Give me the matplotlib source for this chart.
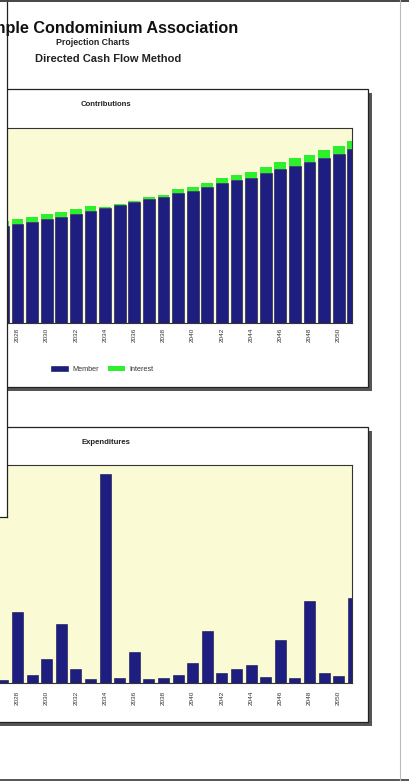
import matplotlib
matplotlib.use("Agg")
import matplotlib.pyplot as plt
from matplotlib.patches import Rectangle
from matplotlib.lines import Line2D

# ---------------- data ----------------
years = list(range(2027, 2052))
member = [97, 99, 101, 104, 106, 109, 112, 114.7, 118, 121.3, 124.3, 125.7, 130.3,
          132.3, 136.3, 139.7, 143, 145.5, 149.7, 153.7, 157, 160.7, 164.7, 168.7, 173.7]
interest = [5, 4.7, 4.7, 4.7, 4.7, 4.7, 4.7, 1, 1, 1, 1.7, 2.3, 3.4,
            4, 3.4, 5, 5, 6, 6, 7, 8.3, 7.3, 8.3, 8.6, 8.3]
expenditures = [3, 70.7, 8, 24, 59, 13.7, 3.7, 208.7, 5.3, 31.3, 4, 5.3, 8,
                20.3, 52.3, 10.3, 14.3, 18, 5.7, 43, 4.7, 82.3, 10.3, 7, 84.7]
tick_years = list(range(2028, 2051, 2))

title = "Sample Condominium Association"
subtitle1 = "Projection Charts"
subtitle2 = "Directed Cash Flow Method"

# ---------------- layout helpers ----------------
W, H = 409, 783
fig = plt.figure(figsize=(W / 100, H / 100), dpi=100)
fig.patch.set_facecolor("white")
plt.rcParams['font.family'] = ['Liberation Sans', 'DejaVu Sans']


def rect_fig(x0, y0, x1, y1):
    return [x0 / W, 1 - y1 / H, (x1 - x0) / W, (y1 - y0) / H]


# background axes in pixel coords
bg = fig.add_axes([0, 0, 1, 1], zorder=0)
bg.set_xlim(0, W)
bg.set_ylim(H, 0)
bg.axis("off")

# chart boxes with shadow
for (x0, y0, x1, y1) in [(-10, 89, 368, 387), (-10, 427, 368, 722)]:
    bg.add_patch(Rectangle((x0 + 4, y0 + 4), x1 - x0, y1 - y0,
                           facecolor="#555555", edgecolor="none"))
    bg.add_patch(Rectangle((x0, y0), x1 - x0, y1 - y0,
                           facecolor="white", edgecolor="#222222", lw=0.9))

navy = "#1e1e80"
green = "#2cf02c"
plot_bg = "#fafad4"

# mapping years -> px: 2028 centre at 17.5 px, 14.6 px per year
px0, step = 17.5, 14.6
L, R = -6, 352
xlim = (2028 - (px0 - L) / step, 2028 + (R - px0) / step)


def style(ax):
    ax.set_facecolor(plot_bg)
    ax.set_xlim(*xlim)
    ax.set_xticks(tick_years)
    ax.set_xticklabels([str(y) for y in tick_years], rotation=90,
                       fontsize=4.6, color="#333333")
    ax.set_yticks([])
    ax.tick_params(axis="x", length=0, pad=3.5)
    for s in ax.spines.values():
        s.set_color("#333333")
        s.set_linewidth(0.8)


# Contributions
ax1 = fig.add_axes(rect_fig(L, 128, R, 323), zorder=1)
b1 = ax1.bar(years, member, width=0.82, color=navy, edgecolor="#10104a", lw=0.4,
             label="Member")
b2 = ax1.bar(years, interest, bottom=member, width=0.82, color=green,
             edgecolor="none", label="Interest")
ax1.set_ylim(0, 195)
style(ax1)

# Expenditures
ax2 = fig.add_axes(rect_fig(L, 465, R, 683), zorder=1)
ax2.bar(years, expenditures, width=0.75, color=navy, edgecolor="#10104a", lw=0.4)
ax2.set_ylim(0, 218)
style(ax2)
ax2.tick_params(axis="x", pad=5.5)

# overlay axes
ov = fig.add_axes([0, 0, 1, 1], zorder=3)
ov.set_xlim(0, W)
ov.set_ylim(H, 0)
ov.axis("off")
ov.patch.set_alpha(0)

# left overlapping white box
ov.add_patch(Rectangle((-5, -5), 12, 522, facecolor="white", edgecolor="none"))
ov.add_line(Line2D([7, 7], [0, 517], color="#222222", lw=0.9))
ov.add_line(Line2D([0, 7], [517, 517], color="#222222", lw=0.9))

# page borders
ov.add_line(Line2D([0, W], [0.8, 0.8], color="#444444", lw=1.4))
ov.add_line(Line2D([0, W], [780, 780], color="#555555", lw=1.4))
ov.add_line(Line2D([400, 400], [0, 780], color="#bbbbbb", lw=0.8))

# titles (the page scan is cropped at the left, so the title runs off the edge)
ov.text(238, 28, title, ha="right", va="center", fontsize=11.7,
        fontweight="bold", color="#111111")
ov.text(93, 42.5, subtitle1, ha="center", va="center", fontsize=6.3,
        fontweight="bold", color="#222222")
ov.text(108.5, 59.5, subtitle2, ha="center", va="center", fontsize=8.0,
        fontweight="bold", color="#222222")

ov.text(106, 105, "Contributions", ha="center", va="center", fontsize=5.6,
        fontweight="bold", color="#222222")
ov.text(106, 443, "Expenditures", ha="center", va="center", fontsize=5.6,
        fontweight="bold", color="#222222")

# legend
leg = fig.legend(handles=[b1, b2], labels=["Member", "Interest"],
                 loc="center left", bbox_to_anchor=(51 / W, 1 - 369.5 / H),
                 ncol=2, frameon=False, fontsize=5.2, handlelength=2.4,
                 handleheight=0.6, columnspacing=1.3, handletextpad=0.5,
                 borderaxespad=0, borderpad=0)
for t in leg.get_texts():
    t.set_color("#333333")
leg.set_zorder(4)

fig.savefig("out.png", dpi=100, facecolor="white")
